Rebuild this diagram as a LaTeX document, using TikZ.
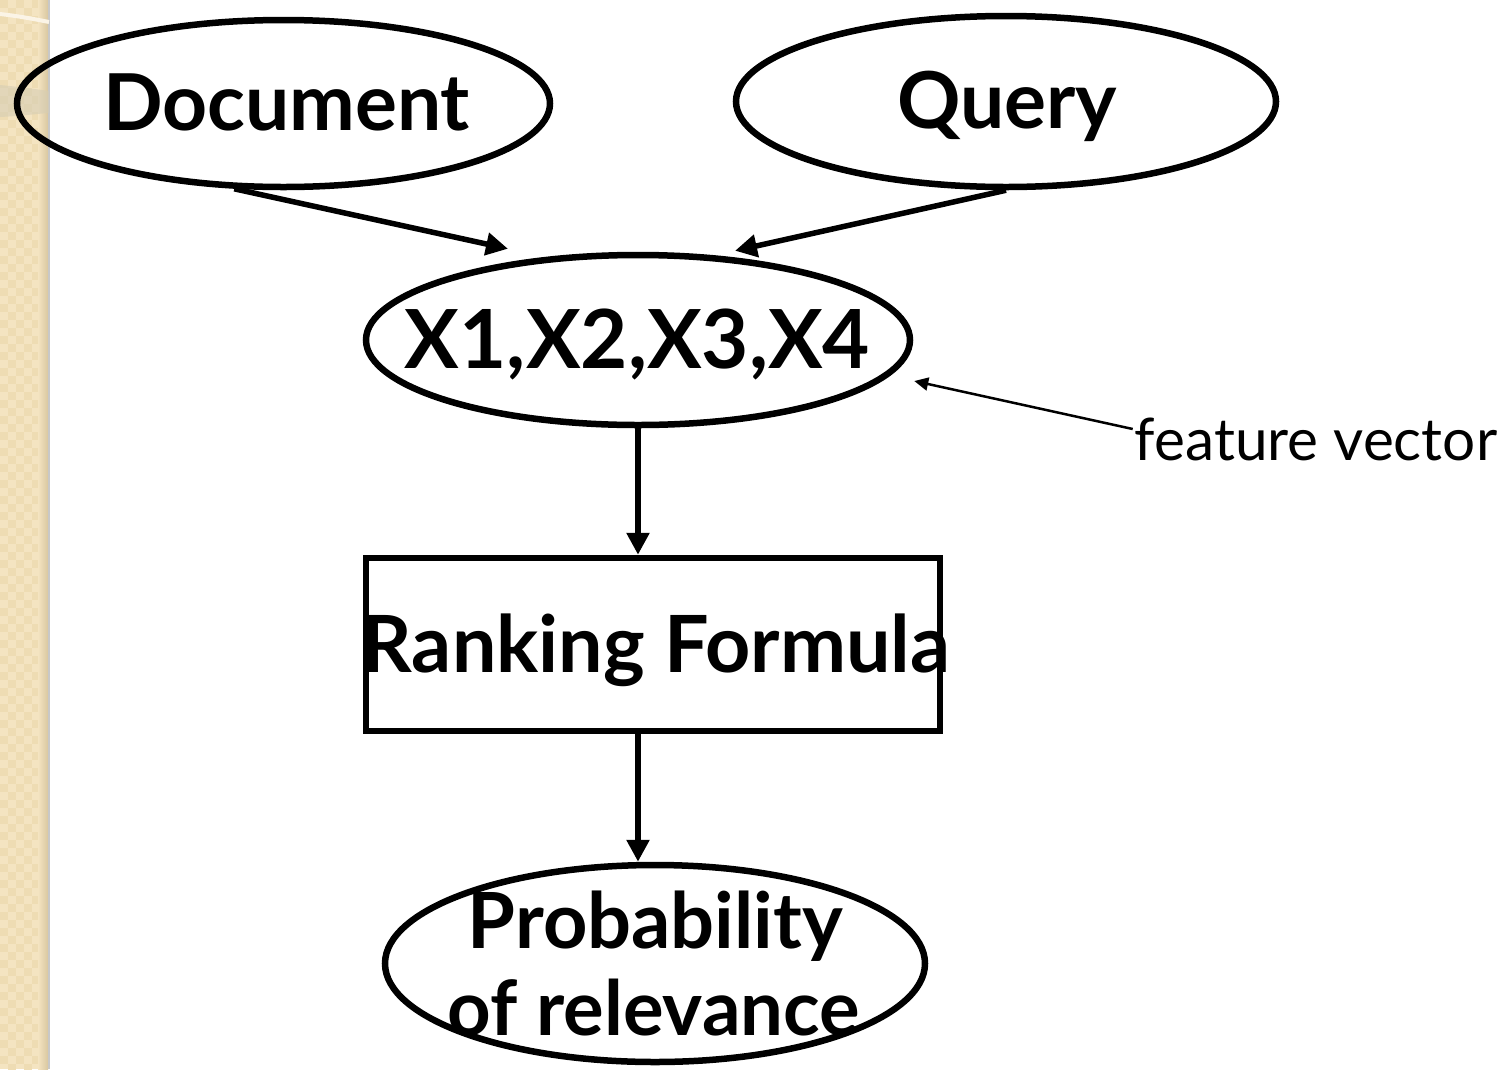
\documentclass[tikz,border=0pt]{standalone}
\usepackage{fontspec}
\setmainfont{Lato}
\usetikzlibrary{shapes.geometric,arrows.meta,calc}
\definecolor{strip}{HTML}{F4E4C1}
\definecolor{stripdark}{HTML}{EEDCB3}
\definecolor{stripedge}{HTML}{D9C7A0}
\definecolor{stripline}{HTML}{C8C8C8}
\definecolor{band}{HTML}{D6CDB4}
\newcommand{\fitw}[2]{\resizebox{#1pt}{!}{#2}}
\begin{document}
\begin{tikzpicture}[x=1pt,y=-1pt,
  ell/.style={draw, ellipse, line width=6.5pt, inner sep=0pt},
  box/.style={draw, rectangle, line width=6.5pt, inner sep=0pt},
  lbl/.style={anchor=base, inner sep=0pt, font=\bfseries},
  plain/.style={anchor=base, inner sep=0pt},
  arr/.style={line width=5.5pt, -{Triangle[length=22pt,width=22pt]}},
  thinarr/.style={line width=2.5pt, -{Triangle[length=14pt,width=13pt]}}]
\useasboundingbox (0,0) rectangle (1508,1069);
\fill[white] (0,0) rectangle (1508,1069);
% left decorative strip
\fill[strip] (0,0) rectangle (48,1069);
\foreach \xx in {0,16,32} {
  \foreach \yy in {0,16,...,1064} {
    \fill[stripdark] (\xx,\yy) rectangle ++(8,8);
    \fill[stripdark] (\xx+8,\yy+8) rectangle ++(8,8);
  }
}
\shade[left color=strip, right color=stripedge] (38,0) rectangle (48,1069);
\draw[stripline, line width=1.5pt] (49,0) -- (49,1069);
\draw[white!60!strip, line width=4pt] (0,14) .. controls (18,16) and (34,19) .. (49,22);
\fill[band, opacity=0.6] (0,85) .. controls (20,87) and (35,89) .. (49,91) -- (49,113) .. controls (35,114) and (20,116) .. (0,117) -- cycle;

% nodes
\node[ell, minimum width=533pt, minimum height=167pt] (doc) at (283.5,103.5) {};
\node[ell, minimum width=540pt, minimum height=171pt] (query) at (1006,101.5) {};
\node[ell, minimum width=544pt, minimum height=170pt] (x) at (638,340) {};
\node[box, minimum width=574pt, minimum height=173pt] (rf) at (653,644.5) {};
\node[ell, minimum width=540pt, minimum height=197pt] (prob) at (655,963.5) {};

\node[lbl] (doct) at (286.5,130) {\fitw{367}{Document}};
\node[lbl] (queryt) at (1007,128) {\fitw{220}{Query}};
\node[lbl] (xt) at (637.5,368) {\fitw{465}{X1,X2,X3,X4}};
\node[lbl] (rft) at (656,672) {\fitw{588}{Ranking Formula}};
\node[lbl] (probt1) at (655.5,948) {\fitw{375}{Probability}};
\node[lbl] (probt2) at (654,1035) {\fitw{412}{of relevance}};
\node[plain] (fv) at (1316,460) {\fitw{362}{feature vector}};

% connectors
\draw[arr] (doc.240) -- ($(x.north)+(-130,-3)$);
\draw[arr] (query.south) -- ($(x.north)+(97,-1)$);
\draw[arr] (x.south) -- (x.south |- rf.north);
\draw[arr] (x.south |- rf.south) -- (x.south |- prob.north);
\draw[thinarr] ($(fv.base west)+(-2,-31)$) -- ($(x.east)+(1,41)$);
\end{tikzpicture}
\end{document}
